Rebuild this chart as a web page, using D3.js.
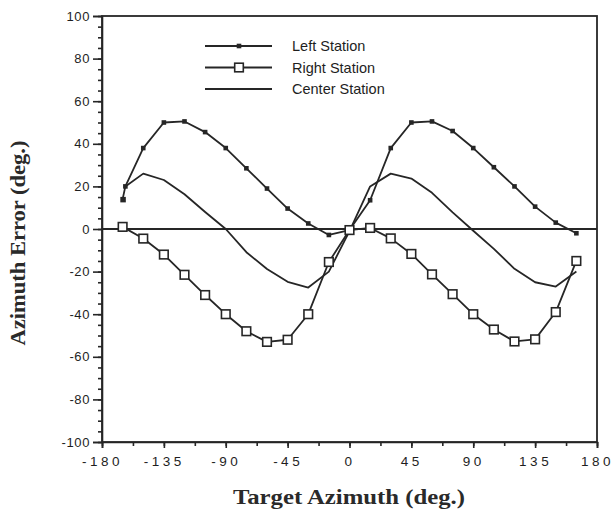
<!DOCTYPE html>
<html>
<head>
<meta charset="utf-8">
<script src="https://cdn.jsdelivr.net/npm/d3@7"></script>
<style>
  body { margin: 0; background: #fff; }
  svg { display: block; }
</style>
</head>
<body>
<div id="chart"></div>
<script>
// values
const leftAz = [-165, -163, -150, -135, -120, -105, -90, -75, -60, -45, -30, -15, 0,
  15, 30, 45, 60, 75, 90, 105, 120, 135, 150, 165];
const leftErr = [14, 20, 38, 50, 50.5, 45.5, 38, 28.5, 19, 9.6, 2.6, -2.8, -0.5,
  13.5, 38, 50, 50.5, 46, 38, 29, 20, 10.5, 3, -2];

const rightAz = [-165, -150, -135, -120, -105, -90, -75, -60, -45, -30, -15, 0,
  15, 30, 45, 60, 75, 90, 105, 120, 135, 150, 165];
const rightErr = [1, -4.5, -12, -21.5, -31, -40, -48, -53, -52, -40, -15.5, -0.5,
  0.5, -4.4, -11.7, -21.3, -30.6, -40, -47.2, -52.8, -51.8, -39, -15];

const centerAz = [-163, -150, -135, -120, -105, -90, -75, -60, -45, -30, -15, 0,
  15, 30, 45, 60, 75, 90, 105, 120, 135, 150, 165];
const centerErr = [20, 26, 23, 16.3, 8, 0, -10.9, -18.8, -24.8, -27.5, -20, -1,
  20, 26, 23.7, 17, 7.8, -0.8, -9.3, -18.7, -25, -27, -20];

const xTicks = [-180, -135, -90, -45, 0, 45, 90, 135, 180];
const yTicks = [-100, -80, -60, -40, -20, 0, 20, 40, 60, 80, 100];
const legendNames = ["Left Station", "Right Station", "Center Station"];

const w = 615, h = 511;
const ink = "#262626";
// plain hyphen for negatives, as in the scan
const hyph = d => d < 0 ? "-" + (-d) : String(d);

let svg = d3.select("#chart")
  .append("svg")
  .attr("width", w)
  .attr("height", h)
  .attr("viewBox", [0, 0, w, h]);

let x = d3.scaleLinear().domain([-180, 180]).range([102, 597]);
let y = d3.scaleLinear().domain([-100, 100]).range([442, 16]);

// minor ticks
svg.append("g")
  .attr("transform", `translate(${x(-180)},0)`)
  .call(d3.axisLeft(y).tickValues(d3.range(-100, 101, 5)).tickSize(4).tickFormat(""))
  .call(g => g.select(".domain").remove());
svg.append("g")
  .attr("transform", `translate(0,${y(-100)})`)
  .call(d3.axisBottom(x).tickValues(d3.range(-180, 181, 22.5)).tickSize(4).tickFormat(""))
  .call(g => g.select(".domain").remove());

// major ticks + labels
let yAxis = svg.append("g")
  .attr("transform", `translate(${x(-180)},0)`)
  .call(d3.axisLeft(y).tickValues(yTicks).tickSize(9).tickPadding(3).tickFormat(hyph));
yAxis.selectAll("text")
  .style("font-family", "'Liberation Sans', Arial, sans-serif")
  .attr("font-size", 13)
  .attr("letter-spacing", 0.6);

let xAxis = svg.append("g")
  .attr("transform", `translate(0,${y(-100)})`)
  .call(d3.axisBottom(x).tickValues(xTicks).tickSize(6).tickPadding(8).tickFormat(hyph));
xAxis.selectAll("text")
  .style("font-family", "'Liberation Sans', Arial, sans-serif")
  .attr("font-size", 13.5)
  .attr("letter-spacing", 3.5)
  .attr("dx", 0);

svg.selectAll(".domain, .tick line").attr("stroke", ink).attr("stroke-width", 1.6);
svg.selectAll(".tick text").attr("fill", "#1e1e1e");

// frame
svg.append("rect")
  .attr("x", x(-180))
  .attr("y", y(100))
  .attr("width", x(180) - x(-180))
  .attr("height", y(-100) - y(100))
  .attr("fill", "none")
  .attr("stroke", ink)
  .attr("stroke-width", 1.8);

// zero line
svg.append("line")
  .attr("x1", x(-180)).attr("x2", x(180))
  .attr("y1", y(0)).attr("y2", y(0))
  .attr("stroke", ink)
  .attr("stroke-width", 1.8);

let line = d3.line().x(d => x(d[0])).y(d => y(d[1]));
let plot = svg.append("g")
  .attr("fill", "none")
  .attr("stroke", ink)
  .attr("stroke-width", 1.8)
  .attr("stroke-linejoin", "round");

let leftPts = d3.zip(leftAz, leftErr);
let rightPts = d3.zip(rightAz, rightErr);
let centerPts = d3.zip(centerAz, centerErr);

plot.append("path").attr("d", line(centerPts));
plot.append("path").attr("d", line(leftPts));
plot.append("path").attr("d", line(rightPts));

// left station: small filled squares
svg.append("g")
  .selectAll("rect")
  .data(leftPts)
  .join("rect")
  .attr("x", d => x(d[0]) - 2.3)
  .attr("y", d => y(d[1]) - 2.3)
  .attr("width", (d, i) => i == 0 ? 5.5 : 4.6)
  .attr("height", (d, i) => i == 0 ? 5.5 : 4.6)
  .attr("fill", ink);

// right station: open squares
svg.append("g")
  .selectAll("rect")
  .data(rightPts)
  .join("rect")
  .attr("x", d => x(d[0]) - 4.3)
  .attr("y", d => y(d[1]) - 4.3)
  .attr("width", 8.6)
  .attr("height", 8.6)
  .attr("fill", "#fff")
  .attr("stroke", ink)
  .attr("stroke-width", 1.6);

// legend
let legend = svg.append("g");
let ly = d3.scalePoint().domain(legendNames).range([46, 89]);
legend.selectAll("line")
  .data(legendNames)
  .join("line")
  .attr("x1", 205).attr("x2", 272)
  .attr("y1", d => ly(d)).attr("y2", d => ly(d))
  .attr("stroke", ink)
  .attr("stroke-width", 1.8);
legend.append("rect")
  .attr("x", 239 - 2.3).attr("y", ly("Left Station") - 2.3)
  .attr("width", 4.6).attr("height", 4.6)
  .attr("fill", ink);
legend.append("rect")
  .attr("x", 239 - 4.3).attr("y", ly("Right Station") - 4.3)
  .attr("width", 8.6).attr("height", 8.6)
  .attr("fill", "#fff")
  .attr("stroke", ink)
  .attr("stroke-width", 1.6);
legend.selectAll("text")
  .data(legendNames)
  .join("text")
  .attr("x", 292)
  .attr("y", d => ly(d))
  .attr("dy", "0.35em")
  .style("font-family", "'Liberation Sans', Arial, sans-serif")
  .attr("font-size", 14.5)
  .attr("fill", "#1e1e1e")
  .text(d => d);

// axis titles (old book face is wider than Liberation Serif, so stretch to the scan's width)
svg.append("text")
  .attr("x", 349)
  .attr("y", 504)
  .attr("text-anchor", "middle")
  .attr("textLength", 232)
  .attr("lengthAdjust", "spacingAndGlyphs")
  .style("font-family", "'Liberation Serif', 'DejaVu Serif', serif")
  .attr("font-size", 20)
  .attr("font-weight", "bold")
  .attr("fill", "#2a2a2a")
  .text("Target Azimuth (deg.)");

svg.append("text")
  .attr("transform", "translate(25,243) rotate(-90)")
  .attr("text-anchor", "middle")
  .attr("textLength", 205)
  .attr("lengthAdjust", "spacingAndGlyphs")
  .style("font-family", "'Liberation Serif', 'DejaVu Serif', serif")
  .attr("font-size", 20)
  .attr("font-weight", "bold")
  .attr("fill", "#2a2a2a")
  .text("Azimuth Error (deg.)");
</script>
</body>
</html>
